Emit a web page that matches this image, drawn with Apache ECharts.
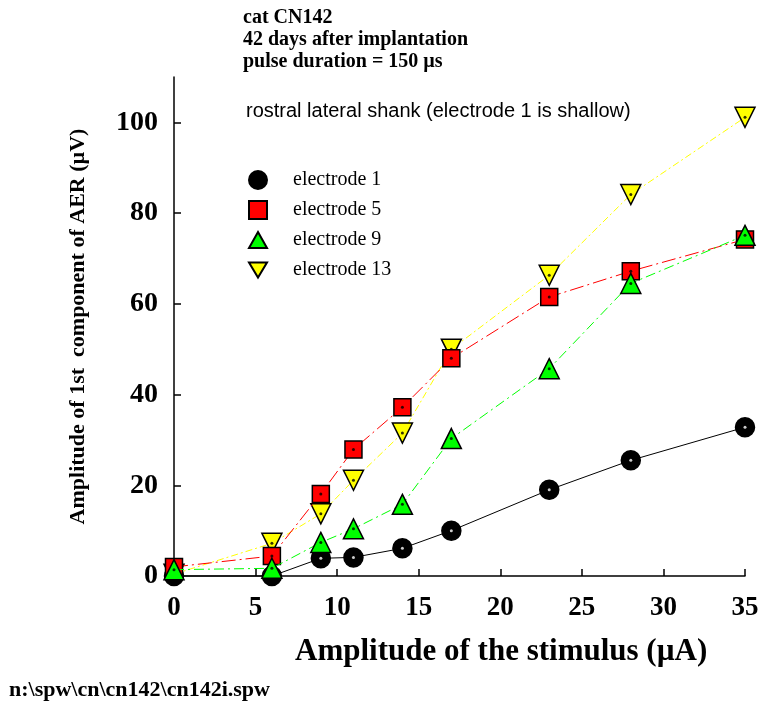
<!DOCTYPE html>
<html>
<head>
<meta charset="utf-8">
<script src="https://cdn.jsdelivr.net/npm/echarts@6/dist/echarts.min.js"></script>
<style>
  html, body { margin: 0; padding: 0; background: #fff; }
  #chart { width: 762px; height: 705px; }
</style>
</head>
<body>
<div id="chart"></div>
<script>
// Stimulus amplitudes (µA)
const stimulus = [0, 6, 9, 11, 14, 17, 23, 28, 35];

// AER first-component amplitudes (µV) per electrode
const electrode1  = [0, 0, 3.9, 4.1, 6.1, 10.0, 19.0, 25.5, 32.8];
const electrode5  = [2.0, 4.4, 18.1, 27.9, 37.2, 48.0, 61.5, 67.2, 74.2];
const electrode9  = [1.4, 1.7, 7.4, 10.4, 15.8, 30.3, 45.7, 64.5, 75.1];
const electrode13 = [0.4, 7.2, 13.7, 21.1, 31.5, 50.0, 66.3, 84.1, 101.1];

const seriesNames = ['electrode 1', 'electrode 5', 'electrode 9', 'electrode 13'];
const xTicks = [0, 5, 10, 15, 20, 25, 30, 35];
const yTicks = [0, 20, 40, 60, 80, 100];

const serif = '"Liberation Serif", "Times New Roman", serif';
const sans = '"Liberation Sans", Arial, sans-serif';

function pairs(ys) {
  return stimulus.map((x, i) => [x, ys[i]]);
}

function lineSeries(name, ys, opts) {
  return {
    name: name,
    type: 'line',
    data: pairs(ys),
    z: opts.z,
    symbol: opts.symbol,
    symbolSize: opts.size,
    symbolRotate: opts.rotate || 0,
    showAllSymbol: true,
    clip: false,
    lineStyle: { color: opts.line, width: 1, type: opts.dash },
    itemStyle: { color: opts.fill, borderColor: opts.border, borderWidth: 1.5, opacity: 1 },
    emphasis: { disabled: true },
    animation: false
  };
}

// small centre dot drawn inside each marker
function dotSeries(ys, color, z) {
  return {
    type: 'scatter',
    data: pairs(ys),
    z: z,
    symbol: 'circle',
    symbolSize: 3,
    clip: false,
    itemStyle: { color: color },
    silent: true,
    animation: false
  };
}

const chart = echarts.init(document.getElementById('chart'), null, { renderer: 'canvas' });

chart.setOption({
  backgroundColor: '#ffffff',
  animation: false,
  grid: { left: 174, right: 17, top: 77, bottom: 129, containLabel: false },
  xAxis: {
    type: 'value',
    min: 0,
    max: 35,
    interval: 5,
    axisLine: { show: true, onZero: false, lineStyle: { color: '#000', width: 1.5 } },
    axisTick: { show: true, inside: true, length: 7, lineStyle: { color: '#000', width: 1.5 } },
    splitLine: { show: false },
    axisLabel: {
      margin: 19,
      color: '#000',
      fontFamily: serif,
      fontWeight: 'bold',
      fontSize: 27,
      formatter: v => (xTicks.indexOf(v) >= 0 ? String(v) : '')
    }
  },
  yAxis: {
    type: 'value',
    min: 0,
    max: 110,
    interval: 20,
    name: 'Amplitude of 1st  component of AER (\u00b5V)',
    nameLocation: 'middle',
    nameGap: 85,
    nameRotate: 90,
    nameTextStyle: { color: '#000', fontFamily: serif, fontWeight: 'bold', fontSize: 22 },
    axisLine: { show: true, onZero: false, lineStyle: { color: '#000', width: 1.5 } },
    axisTick: { show: true, inside: true, length: 7, lineStyle: { color: '#000', width: 1.5 } },
    splitLine: { show: false },
    axisLabel: {
      margin: 16,
      color: '#000',
      fontFamily: serif,
      fontWeight: 'bold',
      fontSize: 28,
      showMaxLabel: false,
      formatter: v => (yTicks.indexOf(v) >= 0 ? String(v) : '')
    }
  },
  legend: {
    orient: 'vertical',
    left: 243,
    top: 165,
    itemWidth: 18,
    itemHeight: 18,
    itemGap: 10,
    selectedMode: false,
    data: [
      { name: seriesNames[0], icon: 'circle' },
      { name: seriesNames[1], icon: 'path://M2,2 L16,2 L16,16 L2,16 Z' },
      { name: seriesNames[2], icon: 'path://M9,1 L18,17 L0,17 Z' },
      { name: seriesNames[3], icon: 'path://M0,2 L18,2 L9,17 Z' }
    ],
    textStyle: { color: '#000', fontFamily: serif, fontSize: 20, lineHeight: 20, padding: [0, 0, 0, 21] }
  },
  graphic: [
    {
      type: 'text', left: 243, top: 7,
      style: {
        text: 'cat CN142\n42 days after implantation\npulse duration = 150 \u00b5s',
        fill: '#000', font: 'bold 20px ' + serif, lineHeight: 22
      }
    },
    {
      type: 'text', left: 246, top: 101,
      style: { text: 'rostral lateral shank (electrode 1 is shallow)', fill: '#000', font: '20px ' + sans }
    },
    {
      type: 'text', left: 295, top: 636,
      style: { text: 'Amplitude of the stimulus (\u00b5A)', fill: '#000', font: 'bold 31px ' + serif }
    },
    {
      type: 'text', left: 9, top: 679,
      style: { text: 'n:\\spw\\cn\\cn142\\cn142i.spw', fill: '#000', font: 'bold 22px ' + serif }
    }
  ],
  series: [
    lineSeries(seriesNames[3], electrode13, { z: 2, symbol: 'triangle', rotate: 180, size: 20, fill: '#ffff00', border: '#000', line: '#ffff00', dash: [7, 3, 2, 3] }),
    dotSeries(electrode13, '#000', 2),
    lineSeries(seriesNames[0], electrode1, { z: 3, symbol: 'circle', size: 19, fill: '#000', border: '#000', line: '#000', dash: 'solid' }),
    dotSeries(electrode1, '#fff', 3),
    lineSeries(seriesNames[1], electrode5, { z: 4, symbol: 'rect', size: 17, fill: '#ff0000', border: '#000', line: '#ff0000', dash: [14, 4, 2, 4] }),
    dotSeries(electrode5, '#000', 4),
    lineSeries(seriesNames[2], electrode9, { z: 5, symbol: 'triangle', size: 20, fill: '#00ff00', border: '#000', line: '#00ff00', dash: [10, 4, 2, 4] }),
    dotSeries(electrode9, '#000', 5)
  ]
});
</script>
</body>
</html>
